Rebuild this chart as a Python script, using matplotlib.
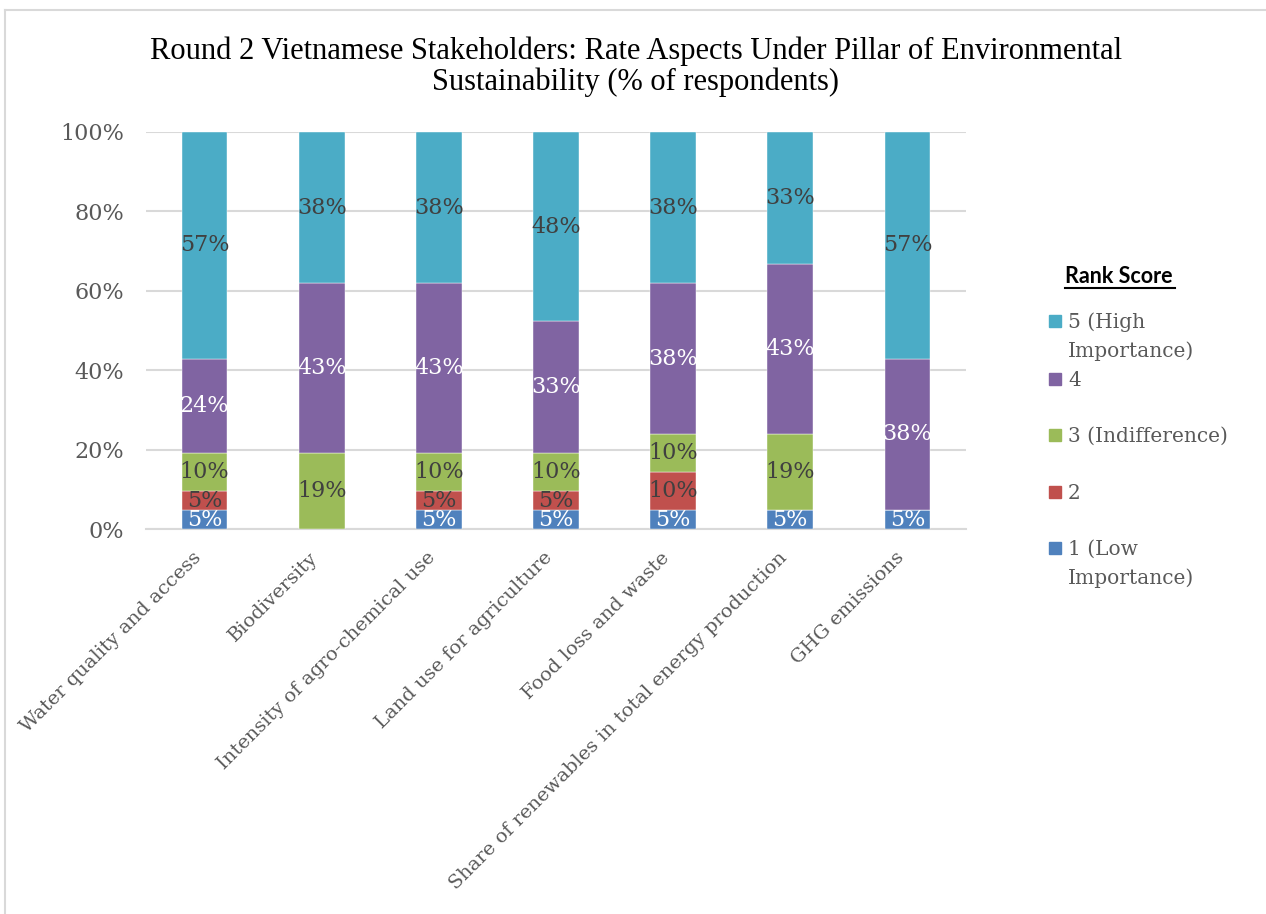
import matplotlib.pyplot as plt
from matplotlib.patches import Rectangle
from matplotlib.lines import Line2D
import numpy as np

# Survey responses (number of respondents per rank score)
aspects = [
    "Water quality and access", "Biodiversity", "Intensity of agro-chemical use",
    "Land use for agriculture", "Food loss and waste",
    "Share of renewables in total energy production", "GHG emissions",
]
n_respondents = 21
score1 = [1, 0, 1, 1, 1, 1, 1]
score2 = [1, 0, 1, 1, 2, 0, 0]
score3 = [2, 4, 2, 2, 2, 4, 0]
score4 = [5, 9, 9, 7, 8, 9, 8]
score5 = [12, 8, 8, 10, 8, 7, 12]

series_names = ["1 (Low\nImportance)", "2", "3 (Indifference)", "4", "5 (High\nImportance)"]
series_counts = [score1, score2, score3, score4, score5]
colors = ["#4F81BD", "#C0504D", "#9BBB59", "#8064A2", "#4BACC6"]
label_colors = ["white", "#404040", "#404040", "white", "#404040"]

W, H = 1266, 914
fig = plt.figure(figsize=(W / 100, H / 100), dpi=100)
fig.patch.set_facecolor("white")


def fx(px):
    return px / W


def fy(py):
    return 1 - py / H


ax = fig.add_axes([fx(146), fy(529), (966 - 146) / W, (529 - 132) / H])

x = np.arange(len(aspects))
bottom = np.zeros(len(aspects))
serif = "DejaVu Serif"
for counts, col, lc in zip(series_counts, colors, label_colors):
    pct = np.array(counts) / n_respondents * 100
    ax.bar(x, pct, width=0.39, bottom=bottom, color=col,
           edgecolor="white", linewidth=0.3, zorder=3)
    for xi, b, v in zip(x, bottom, pct):
        if v > 0:
            ax.text(xi, b + v / 2, f"{v:.0f}%", ha="center", va="center",
                    fontsize=16, family=serif, color=lc, zorder=4)
    bottom += pct

ax.set_xlim(-0.5, len(aspects) - 0.5)
ax.set_ylim(0, 100)
ax.set_yticks(np.arange(0, 101, 20))
ax.set_yticklabels([f"{v}%" for v in range(0, 101, 20)])
ax.yaxis.grid(True, color="#D9D9D9", linewidth=1.5, zorder=0)
ax.set_axisbelow(True)
for s in ["top", "right", "left"]:
    ax.spines[s].set_visible(False)
ax.spines["bottom"].set_color("#D9D9D9")
ax.spines["bottom"].set_linewidth(1.5)
ax.tick_params(axis="y", length=0, pad=16, labelsize=16, labelcolor="#595959")
ax.tick_params(axis="x", length=0, pad=14)
for t in ax.get_yticklabels():
    t.set_family(serif)

ax.set_xticks(x)
ax.set_xticklabels(aspects, rotation=45, ha="right", va="top",
                   fontsize=14, family=serif, color="#595959")

# Title
fig.text(fx(636), fy(36), "Round 2 Vietnamese Stakeholders: Rate Aspects Under Pillar of Environmental\n"
         "Sustainability (% of respondents)", ha="center", va="top",
         fontsize=22, family="Liberation Serif", color="black", linespacing=1.1)

# Legend, drawn top-down from score 5
fig.text(fx(1065), fy(283), "Rank Score", ha="left", va="baseline",
         fontsize=15.5, family="Lato", weight="bold", color="black")
fig.add_artist(Line2D([fx(1065), fx(1175)], [fy(288), fy(288)],
                      color="black", linewidth=1.5))
entry_y = [548, 492, 435, 379, 321]
for name, col, yc in reversed(list(zip(series_names, colors, entry_y))):
    fig.add_artist(Rectangle((fx(1049), fy(yc + 6)), 12 / W, 12 / H,
                             transform=fig.transFigure, color=col))
    for i, line in enumerate(name.split("\n")):
        fig.text(fx(1068), fy(yc + 7 + 29 * i), line, ha="left", va="baseline",
                 fontsize=14.5, family=serif, color="#595959")

# Chart border (top and left edges)
fig.add_artist(Line2D([fx(5), fx(1265)], [fy(10), fy(10)], color="#D9D9D9", linewidth=1.5))
fig.add_artist(Line2D([fx(5), fx(5)], [fy(10), fy(914)], color="#D9D9D9", linewidth=1.5))

fig.savefig("out.png", dpi=100, facecolor="white")
